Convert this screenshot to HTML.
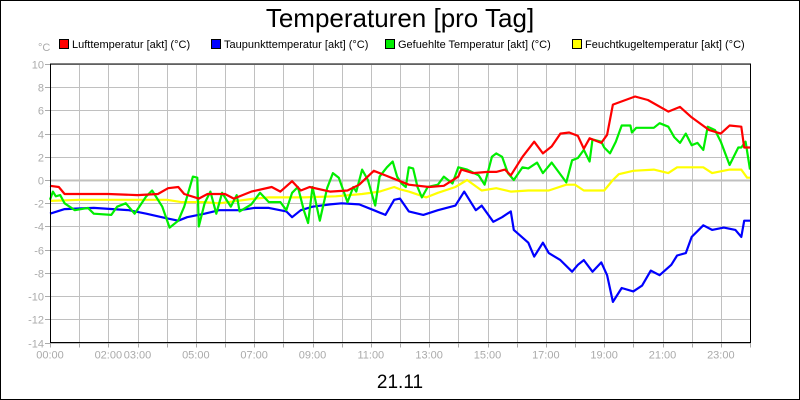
<!DOCTYPE html>
<html><head><meta charset="utf-8"><style>
html,body{margin:0;padding:0;background:#fff}
svg{display:block;font-family:"Liberation Sans",sans-serif}
</style></head><body>
<svg id="chart" width="800" height="400">
<rect x="0.5" y="0.5" width="799" height="399" fill="#fff" stroke="#000"/>
<text x="400" y="27" text-anchor="middle" font-size="26">Temperaturen [pro Tag]</text>
<text x="38" y="51" font-size="11" fill="#aaa">°C</text>
<g id="legend"></g>
<g id="grid"></g>
<g id="series"></g>
<g id="axes"></g>
<text x="400" y="388" text-anchor="middle" font-size="19">21.11</text>
</svg>
<script>
const yTicks=[10,8,6,4,2,0,-2,-4,-6,-8,-10,-12,-14];
const xTickLabels=["00:00","02:00","03:00","05:00","07:00","09:00","11:00","13:00","15:00","17:00","19:00","21:00","23:00"];
const xTickLabelHours=[0,2,3,5,7,9,11,13,15,17,19,21,23];
const seriesNames=["Lufttemperatur [akt] (°C)","Taupunkttemperatur [akt] (°C)","Gefuehlte Temperatur [akt] (°C)","Feuchtkugeltemperatur [akt] (°C)"];
const seriesColors=["#f00","#00f","#0e0","#ff0"];
const redT=[0,0.3,0.5,1,2,3,3.7,4.05,4.4,4.6,5.1,5.4,5.8,6.0,6.3,6.9,7.6,7.9,8.3,8.6,8.9,9.6,10.2,10.6,11.1,11.5,12,12.3,13,13.5,14,14.1,14.5,15,15.3,15.6,15.8,16.2,16.6,16.9,17.2,17.5,17.8,18.1,18.3,18.5,18.9,19.1,19.3,20.06,20.5,21.2,21.6,22.0,22.6,23,23.3,23.7,23.8,24];
const redV=[-0.5,-0.6,-1.2,-1.2,-1.2,-1.3,-1.2,-0.7,-0.6,-1.2,-1.6,-1.2,-1.2,-1.2,-1.6,-1.0,-0.6,-1.0,-0.1,-0.9,-0.6,-1.0,-0.9,-0.4,0.8,0.4,-0.1,-0.4,-0.6,-0.5,0.3,0.9,0.6,0.7,0.7,0.9,0.4,2.0,3.3,2.3,2.9,4.0,4.1,3.8,2.7,3.6,3.2,3.9,6.5,7.2,6.9,5.9,6.3,5.4,4.3,4.0,4.7,4.6,2.8,2.8];
const blueT=[0,0.5,1.5,2.7,3.3,4,4.4,4.7,5.3,5.8,6.5,7,7.5,8.1,8.3,8.6,9,9.6,10,10.6,11.1,11.5,11.8,12,12.3,12.8,13.3,13.9,14.2,14.6,14.8,15.2,15.5,15.8,15.9,16.4,16.6,16.9,17.1,17.5,17.9,18.1,18.3,18.6,18.9,19.1,19.3,19.6,20,20.3,20.6,20.9,21.3,21.5,21.8,22,22.4,22.7,23.1,23.5,23.7,23.8,24];
const blueV=[-2.9,-2.5,-2.4,-2.6,-2.9,-3.3,-3.5,-3.2,-2.9,-2.6,-2.6,-2.4,-2.4,-2.7,-3.2,-2.6,-2.3,-2.1,-2.0,-2.1,-2.6,-3.0,-1.7,-1.6,-2.7,-3.0,-2.6,-2.2,-1.0,-2.6,-2.2,-3.6,-3.2,-2.7,-4.3,-5.4,-6.6,-5.4,-6.3,-6.9,-7.9,-7.3,-6.9,-7.9,-7.1,-8.2,-10.5,-9.3,-9.6,-9.1,-7.8,-8.2,-7.3,-6.5,-6.3,-4.9,-3.9,-4.3,-4.1,-4.3,-4.9,-3.5,-3.5];
const greenT=[0,0.1,0.2,0.35,0.5,0.85,1.3,1.5,2.1,2.3,2.6,2.9,3.3,3.5,3.85,4.1,4.4,4.6,4.9,5.05,5.1,5.3,5.5,5.7,5.9,6.2,6.4,6.5,6.9,7.2,7.5,7.9,8.1,8.3,8.5,8.7,8.85,9.0,9.25,9.5,9.7,9.9,10.2,10.4,10.5,10.7,10.9,11.15,11.3,11.55,11.75,11.9,12.05,12.2,12.3,12.45,12.6,12.75,12.95,13.3,13.5,13.8,14,14.3,14.7,14.9,15.15,15.3,15.5,15.7,15.9,16.2,16.4,16.7,16.9,17.2,17.7,17.9,18.1,18.3,18.5,18.6,18.9,19.0,19.2,19.4,19.6,19.9,19.95,20.1,20.7,20.9,21.2,21.4,21.6,21.8,22,22.2,22.4,22.55,22.8,23.0,23.3,23.6,23.7,23.85,24];
const greenV=[-1.7,-1.0,-1.4,-1.3,-2.0,-2.6,-2.4,-2.9,-3.0,-2.3,-2.0,-2.9,-1.4,-0.9,-2.3,-4.1,-3.5,-2.3,0.3,0.2,-4.0,-2.0,-1.0,-2.9,-1.1,-2.3,-1.3,-2.7,-2.1,-1.1,-1.9,-1.9,-2.6,-1.1,-0.6,-2.6,-3.7,-0.6,-3.5,-0.7,0.6,0.2,-1.9,-0.6,-1.0,0.9,0.0,-2.2,0.3,1.1,1.6,0.3,-0.3,-0.6,1.1,1.0,-0.6,-1.5,-0.6,-0.4,0.3,-0.3,1.1,0.9,0.4,-0.4,2.0,2.3,2.0,0.6,0.0,1.1,1.0,1.5,0.6,1.5,-0.2,1.7,1.9,2.6,1.6,3.5,3.3,2.8,2.3,3.3,4.7,4.7,4.1,4.5,4.5,4.9,4.6,3.7,3.2,4.0,3.0,3.2,2.6,4.6,4.3,3.3,1.3,2.8,2.8,3.3,0.9];
const yellowT=[0,1,2,3,4,4.5,5.3,5.8,7,7.5,8.7,9.8,10.7,11.3,11.8,12,12.3,12.9,13.3,13.9,14.3,14.8,15.3,15.8,16.4,17.1,17.7,18,18.3,19,19.3,19.5,20,20.7,21.2,21.5,22.4,22.7,23.3,23.7,23.9,24];
const yellowV=[-1.8,-1.7,-1.7,-1.7,-1.7,-1.9,-1.9,-2.0,-1.6,-1.5,-1.5,-1.4,-1.2,-1.0,-0.6,-0.8,-1.0,-1.5,-1.1,-0.6,0.0,-0.9,-0.7,-1.0,-0.9,-0.9,-0.4,-0.4,-0.9,-0.9,0.0,0.5,0.8,0.9,0.6,1.1,1.1,0.6,0.9,0.9,0.2,0.2];

const X0=50,X1=750,Y0=64,Y1=342.5,VMIN=-14,VMAX=10;
const xScale=h=>X0+h/24*(X1-X0);
const yScale=v=>Y1-(v-VMIN)/(VMAX-VMIN)*(Y1-Y0);
const NS="http://www.w3.org/2000/svg";
function mk(tag,attrs,parent){const e=document.createElementNS(NS,tag);for(const k in attrs)e.setAttribute(k,attrs[k]);parent.appendChild(e);return e;}
const grid=document.getElementById('grid'),axes=document.getElementById('axes'),ser=document.getElementById('series'),leg=document.getElementById('legend');
for(let h=1;h<24;h++){const x=Math.round(xScale(h))+0.5;
 const l=mk('line',{x1:x,x2:x,y1:Y0,y2:Y1,stroke:'#c0c0c0'},grid);
 
 }
yTicks.forEach(v=>{const y=Math.round(yScale(v))+0.5;
 const l=mk('line',{x1:X0,x2:X1,y1:y,y2:y,stroke:'#c0c0c0','stroke-width':v===0?2:1},grid);
 
 
 const t=mk('line',{x1:45,x2:X0,y1:y,y2:y,stroke:'#aaa'},axes);
 
 
 const tx=mk('text',{x:44,y:y+4,'text-anchor':'end','font-size':11,fill:'#aaa'},axes);
 tx.textContent=v;
 
 });
for(let h=0;h<=24;h++){const x=Math.round(xScale(h))+0.5;
 const t=mk('line',{x1:x,x2:x,y1:Y1,y2:Y1+5,stroke:'#aaa'},axes);
 
 }
xTickLabels.forEach((s,i)=>{const t=mk('text',{x:xScale(xTickLabelHours[i]),y:Y1+16,'text-anchor':'middle','font-size':11,fill:'#aaa'},axes);
 t.textContent=s;
 
 });
const frame=mk('path',{d:`M${X0+0.5},${Y0} V${Y1} H${X1+0.5} V${Y0} H${X0}`,fill:'none',stroke:'#000'},axes);


const data=[[redT,redV],[blueT,blueV],[greenT,greenV],[yellowT,yellowV]];
const order=[3,1,2,0];
order.forEach(i=>{const [T,V]=data[i];
 const d=T.map((t,j)=>(j?'L':'M')+xScale(t).toFixed(1)+','+yScale(V[j]).toFixed(1)).join(' ');
 const p=mk('path',{d:d,fill:'none',stroke:seriesColors[i],'stroke-width':2.2,'stroke-linejoin':'round'},ser);
 
 });
const legX=[59,211,385,572];
seriesNames.forEach((n,i)=>{
 const r=mk('rect',{x:legX[i]+0.5,y:39.5,width:9,height:9,fill:seriesColors[i],stroke:'#000'},leg);
 
 
 const t=mk('text',{x:legX[i]+13,y:48,'font-size':11},leg);
 t.textContent=n;
 
 });
</script>
</body></html>
